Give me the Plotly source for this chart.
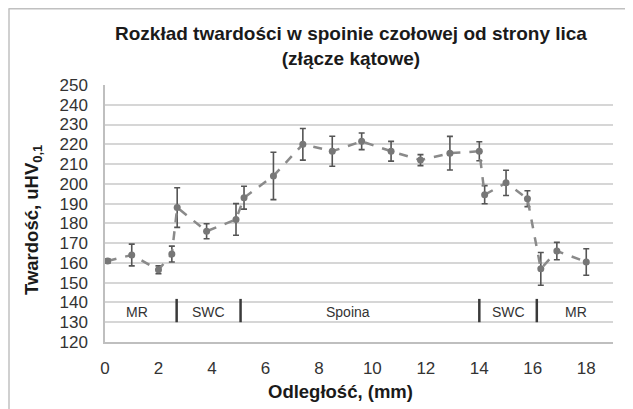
import plotly.graph_objects as go

# Data
distance_mm = [0.1, 1.0, 2.0, 2.5, 2.7, 3.8, 4.9, 5.2, 6.3, 7.4, 8.5, 9.6, 10.7,
               11.8, 12.9, 14.0, 14.2, 15.0, 15.8, 16.3, 16.9, 18.0]
hardness = [161, 164, 156.5, 164.5, 188, 176, 182, 193, 204, 220, 216.5, 221.5,
            216.5, 212, 215.5, 216.5, 194.5, 200.5, 192.5, 157, 166, 160.5]
hardness_err = [1, 5.5, 2, 4, 10, 3.8, 8, 5.8, 12, 8, 7.6, 4.2, 5, 2.8, 8.5,
                4.8, 4.6, 6.4, 4, 8.3, 4.4, 6.7]

zone_names = ["MR", "SWC", "Spoina", "SWC", "MR"]
zone_label_x = [1.2, 3.86, 9.1, 15.1, 17.6]
zone_boundaries = [2.68, 5.07, 14.0, 16.15]
zone_label_y = 135
zone_sep_range = [130, 141.8]

x_ticks = list(range(0, 20, 2))
y_ticks = list(range(120, 251, 10))

FONT = "Liberation Sans, Arial, sans-serif"

# The page body adds an 8px offset; figure sized to fill the rest of the window.
OFF = 8
W, H = 633 - 2 * OFF, 409 - OFF
PLOT_L, PLOT_R, PLOT_T, PLOT_B = 105, 613, 85, 342  # window pixels
L = PLOT_L - OFF
R = W - (PLOT_R - OFF)
T = PLOT_T - OFF
B = H - (PLOT_B - OFF)
PW, PH = W - L - R, H - T - B


def px(xwin):
    return (xwin - PLOT_L) / PW


def py(ywin):
    return (PLOT_B - ywin) / PH


fig = go.Figure()
fig.add_trace(go.Scatter(
    x=distance_mm, y=hardness, mode="lines+markers",
    line=dict(color="#8a8a8a", width=2.5, dash="dash"),
    marker=dict(color="#777777", size=7, symbol="circle"),
    error_y=dict(type="data", array=hardness_err, visible=True,
                 color="#555555", thickness=1.6, width=3),
    showlegend=False, hoverinfo="x+y",
))

shapes = []
for b in zone_boundaries:
    shapes.append(dict(type="line", xref="x", yref="y", x0=b, x1=b,
                       y0=zone_sep_range[0], y1=zone_sep_range[1],
                       line=dict(color="#3a3a3a", width=2.5)))
# outer chart border (top & left visible)
shapes.append(dict(type="line", xref="paper", yref="paper",
                   x0=px(8.5), x1=px(640), y0=py(8.8), y1=py(8.8),
                   line=dict(color="#c0c0c0", width=1.5)))
shapes.append(dict(type="line", xref="paper", yref="paper",
                   x0=px(9), x1=px(9), y0=py(8.8), y1=py(420),
                   line=dict(color="#c0c0c0", width=1.5)))

annotations = []
for name, xp in zip(zone_names, zone_label_x):
    annotations.append(dict(x=xp, y=zone_label_y, xref="x", yref="y", text=name,
                            showarrow=False, font=dict(family=FONT, size=14, color="#333333")))
annotations.append(dict(
    x=px(351), y=py(46), xref="paper", yref="paper",
    text="<b>Rozkład twardości w spoinie czołowej od strony lica<br>(złącze kątowe)</b>",
    showarrow=False, font=dict(family=FONT, size=19, color="#1a1a1a"),
    xanchor="center", yanchor="middle"))
annotations.append(dict(
    x=px(340), y=py(391), xref="paper", yref="paper",
    text="<b>Odległość, (mm)</b>", showarrow=False,
    font=dict(family=FONT, size=18.5, color="#1a1a1a"), xanchor="center", yanchor="middle"))
annotations.append(dict(
    x=px(33), y=py(220), xref="paper", yref="paper",
    text="<b>Twardość, uHV<sub>0,1</sub></b>", showarrow=False, textangle=-90,
    font=dict(family=FONT, size=18.5, color="#1a1a1a"), xanchor="center", yanchor="middle"))

fig.update_layout(
    width=W, height=H,
    margin=dict(l=L, r=R, t=T, b=B, autoexpand=False),
    paper_bgcolor="white", plot_bgcolor="white",
    font=dict(family=FONT, size=17, color="#333333"),
    shapes=shapes, annotations=annotations,
    xaxis=dict(range=[0, 19], tickvals=x_ticks, showgrid=False, zeroline=False,
               showline=True, linecolor="#bfbfbf", linewidth=1.5,
               ticks="", ticklabelstandoff=10,
               tickfont=dict(family=FONT, size=17, color="#333333")),
    yaxis=dict(range=[120, 250], tickvals=y_ticks, showgrid=True,
               gridcolor="#d6d6d6", gridwidth=1.5, zeroline=False,
               showline=True, linecolor="#bfbfbf", linewidth=1.5,
               ticks="", ticklabelstandoff=12,
               tickfont=dict(family=FONT, size=17, color="#333333")),
)

fig.write_html("out.html")
